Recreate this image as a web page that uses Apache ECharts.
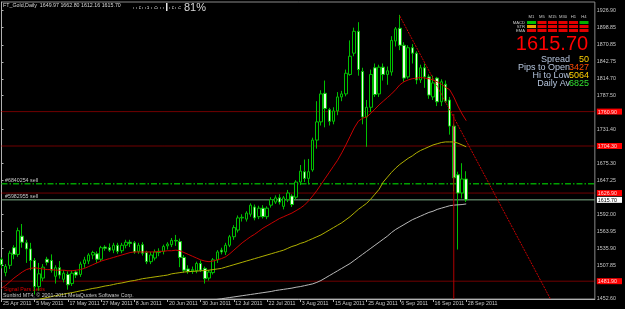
<!DOCTYPE html>
<html><head><meta charset="utf-8">
<script src="https://cdn.jsdelivr.net/npm/echarts@6/dist/echarts.min.js"></script>
<style>html,body{margin:0;padding:0;background:#000;}#c{width:625px;height:309px;}</style>
</head><body><div id="c"></div>
<script>
const FONT = '"Liberation Sans", Arial, sans-serif';
const dates = [
'25 Apr 2011','26 Apr 2011','27 Apr 2011','28 Apr 2011','29 Apr 2011',
'2 May 2011','3 May 2011','4 May 2011','5 May 2011','6 May 2011',
'9 May 2011','10 May 2011','11 May 2011','12 May 2011','13 May 2011',
'16 May 2011','17 May 2011','18 May 2011','19 May 2011','20 May 2011',
'23 May 2011','24 May 2011','25 May 2011','26 May 2011','27 May 2011',
'30 May 2011','31 May 2011',
'1 Jun 2011','2 Jun 2011','3 Jun 2011',
'6 Jun 2011','7 Jun 2011','8 Jun 2011','9 Jun 2011','10 Jun 2011',
'13 Jun 2011','14 Jun 2011','15 Jun 2011','16 Jun 2011','17 Jun 2011',
'20 Jun 2011','21 Jun 2011','22 Jun 2011','23 Jun 2011','24 Jun 2011',
'27 Jun 2011','28 Jun 2011','29 Jun 2011','30 Jun 2011',
'1 Jul 2011',
'4 Jul 2011','5 Jul 2011','6 Jul 2011','7 Jul 2011','8 Jul 2011',
'11 Jul 2011','12 Jul 2011','13 Jul 2011','14 Jul 2011','15 Jul 2011',
'18 Jul 2011','19 Jul 2011','20 Jul 2011','21 Jul 2011','22 Jul 2011',
'25 Jul 2011','26 Jul 2011','27 Jul 2011','28 Jul 2011','29 Jul 2011',
'1 Aug 2011','2 Aug 2011','3 Aug 2011','4 Aug 2011','5 Aug 2011',
'8 Aug 2011','9 Aug 2011','10 Aug 2011','11 Aug 2011','12 Aug 2011',
'15 Aug 2011','16 Aug 2011','17 Aug 2011','18 Aug 2011','19 Aug 2011',
'22 Aug 2011','23 Aug 2011','24 Aug 2011','25 Aug 2011','26 Aug 2011',
'29 Aug 2011','30 Aug 2011','31 Aug 2011',
'1 Sep 2011','2 Sep 2011',
'5 Sep 2011','6 Sep 2011','7 Sep 2011','8 Sep 2011','9 Sep 2011',
'12 Sep 2011','13 Sep 2011','14 Sep 2011','15 Sep 2011','16 Sep 2011',
'19 Sep 2011','20 Sep 2011','21 Sep 2011','22 Sep 2011','23 Sep 2011',
'26 Sep 2011','27 Sep 2011','28 Sep 2011'];
const futureSlots = 31;
const labelEvery = 8;

const open = [1518,1496,1508,1537,1526,1556,1545,1535,1516,1473,
1487,1518,1516,1490,1504,1485,1493,1478,1497,1493,
1511,1515,1525,1527,1518,1538,1537,1533,1541,1532,
1541,1546,1545,1531,1542,1529,1514,1520,1529,1531,
1540,1542,1549,1547,1521,1502,1499,1499,1511,1503,
1487,1496,1517,1533,1530,1541,1555,1566,1586,1584,
1592,1604,1588,1602,1588,1607,1612,1619,1605,1616,
1622,1620,1645,1662,1651,1665,1714,1744,1791,1764,
1745,1762,1785,1790,1822,1857,1893,1827,1752,1768,
1833,1790,1834,1822,1826,1877,1898,1870,1818,1866,
1857,1813,1833,1818,1785,1816,1777,1806,1780,1737,
1657,1627,1649.97];
const high = [1521,1510,1532,1541,1570,1576,1550,1545,1520,1512,
1510,1522,1526,1508,1515,1500,1498,1499,1500,1514,
1522,1528,1532,1531,1540,1541,1544,1545,1545,1545,
1550,1550,1548,1545,1546,1532,1530,1534,1536,1542,
1546,1553,1558,1552,1525,1508,1506,1514,1516,1506,
1500,1520,1533,1537,1545,1558,1574,1590,1592,1597,
1610,1608,1606,1607,1605,1620,1623,1625,1622,1632,
1625,1648,1673,1682,1683,1718,1778,1796,1812,1767,
1768,1793,1795,1830,1878,1899,1908,1833,1780,1830,
1840,1838,1840,1835,1885,1900,1920,1875,1870,1872,
1860,1838,1840,1822,1820,1818,1814,1812,1785,1741,
1662,1676,1662.80];
const low = [1503,1490,1502,1518,1522,1537,1512,1500,1460,1466,
1482,1508,1496,1478,1486,1480,1468,1474,1487,1489,
1504,1510,1518,1512,1515,1532,1530,1528,1527,1528,
1536,1538,1527,1527,1524,1510,1510,1516,1523,1526,
1534,1538,1540,1505,1496,1494,1494,1495,1497,1478,
1483,1493,1512,1526,1525,1538,1550,1562,1580,1580,
1588,1582,1584,1585,1584,1603,1609,1608,1600,1612,
1604,1616,1640,1645,1641,1662,1700,1738,1735,1738,
1740,1755,1778,1786,1820,1852,1820,1740,1703,1760,
1785,1785,1812,1805,1820,1868,1862,1810,1815,1840,
1806,1808,1800,1782,1780,1770,1770,1775,1723,1630,
1534,1618,1612.16];
const close = [1509,1506,1528,1526,1565,1546,1535,1516,1473,1494,
1505,1513,1500,1504,1492,1495,1476,1495,1492,1510,
1517,1525,1529,1518,1537,1536,1533,1541,1531,1541,
1546,1544,1530,1541,1528,1514,1525,1530,1531,1539,
1543,1549,1548,1521,1500,1498,1501,1511,1500,1486,
1497,1517,1530,1530,1541,1555,1570,1586,1587,1594,
1607,1586,1602,1588,1602,1616,1619,1612,1619,1627,
1608,1645,1663,1651,1662,1714,1744,1790,1766,1745,
1762,1785,1790,1824,1852,1893,1830,1752,1768,1822,
1789,1834,1822,1828,1878,1897,1870,1816,1866,1857,
1813,1833,1818,1788,1808,1777,1810,1778,1737,1652,
1627,1650,1615.70];

const maRed = [1470,1475,1481,1487,1492,1497,1501,1503,1504,1503,
1502,1501,1501,1500,1500,1500,1499,1499,1500,1501,
1503,1506,1509,1512,1515,1517,1519,1521,1523,1525,
1527,1529,1530,1530,1530,1530,1530,1530,1531,1531,
1532,1532,1533,1532,1529,1526,1523,1520,1517,1515,
1514,1515,1517,1519,1522,1527,1533,1539,1545,1550,
1555,1559,1564,1569,1573,1577,1581,1585,1588,1591,
1594,1598,1602,1607,1614,1622,1631,1641,1651,1661,
1671,1681,1693,1706,1720,1734,1745,1750,1752,1758,
1765,1772,1778,1784,1790,1797,1805,1810,1813,1815,
1816,1817,1816,1815,1813,1810,1806,1801,1797,1785,
1770,1757,1746];
const maYellow = [null,null,null,null,null,null,null,null,1450,1452,
1453.5,1455,1456.5,1458,1459,1460.5,1462,1463,1464.5,1466,
1467,1468.5,1470,1471,1472.5,1474,1475,1476.5,1478,1479,
1480.5,1482,1483,1484.5,1486,1487,1488,1489,1490,1491,
1492,1494,1495,1496,1497,1497.5,1498,1498.5,1499,1499.5,
1500,1501,1502,1503,1505,1507,1509,1511,1513,1515,
1517,1519,1521,1523,1525,1527,1529,1531,1533,1536,
1539,1541,1544,1546,1549,1552,1555,1558,1562,1566,
1570,1574,1578,1583,1588,1594,1600,1605,1610,1617,
1625,1633,1645,1653,1661,1668,1674,1679,1684,1688,
1693,1697,1700,1703,1706,1708,1710,1711,1711,1711,
1709,1706,1703];
const maWhite = [null,null,null,null,null,null,null,null,null,null,
null,null,null,null,null,null,null,null,null,null,
null,null,null,null,null,null,null,null,null,null,
null,null,null,null,null,null,null,null,null,null,
null,null,null,null,null,null,null,null,1447,1448,
1449.5,1451,1452,1453,1454,1455,1456,1457,1458,1459,
1460,1461,1462,1463,1464,1465,1466.5,1467.5,1468.5,1469.5,
1470.5,1472,1473,1474.5,1476,1477.5,1480,1483,1487,1491,
1495,1499,1503,1507,1511,1516,1521,1526,1531,1536,
1541,1546,1551,1556,1562,1567,1571,1575,1579,1583,
1586,1589,1592,1595,1597,1600,1602,1604,1606,1607,
1607.5,1608,1609];

const priceTicks = [1926.90,1898.85,1870.85,1842.75,1814.70,1787.50,1731.40,1675.30,1647.25,1592.00,1563.95,1535.90,1507.85,1452.60];
const redLevels = [1760.90,1704.30,1626.90,1481.90];
const bidPrice = 1615.70;
const orderLevels = [1642.0,1615.7];
const orderNames = ['#6840254 sell','#5982955 sell'];
const trendPoints = [[96,1918],[132.3,1452.6]];
const vLinePoints = [[109,1757],[109,1452.6]];
const yMin = 1452.6, yMax = 1941.2;

const categories = dates.concat(new Array(futureSlots).fill(''));
const nCat = categories.length;
const candleData = open.map((o,i)=>[o, close[i], low[i], high[i]]);
const showIdx = (i)=> i % labelEvery === 0 && i < dates.length;
const isIn = (arr,v)=> arr.some(a=>Math.abs(a-v)<1e-6);
const AX = 5.3;

const chart = echarts.init(document.getElementById('c'), null, {renderer:'canvas'});
const seriesList = [];
seriesList.push({type:'candlestick', data:candleData, barWidth:3, z:3,
  itemStyle:{color:'#000000', color0:'#e6ffe0', borderColor:'#00c000', borderColor0:'#00c000', borderWidth:1}});
seriesList.push({type:'line', data:maYellow, showSymbol:false, z:4, lineStyle:{color:'#b0b000', width:1}});
seriesList.push({type:'line', data:maWhite, showSymbol:false, z:4, lineStyle:{color:'#b8b8b8', width:1}});
seriesList.push({type:'line', data:maRed, showSymbol:false, z:4, lineStyle:{color:'#c80000', width:1}});
redLevels.forEach(p=>seriesList.push({type:'line', xAxisIndex:1, data:[[0,p],[nCat-1,p]], showSymbol:false, z:2,
  lineStyle:{color:'#e00000', width:1, type:[1,1]}}));
seriesList.push({type:'line', xAxisIndex:1, data:[[0,orderLevels[0]],[nCat-1,orderLevels[0]]], showSymbol:false, z:2,
  lineStyle:{color:'#00a000', width:1.5, type:[6,2,1.5,2]}});
seriesList.push({type:'line', xAxisIndex:1, data:[[0,orderLevels[1]],[nCat-1,orderLevels[1]]], showSymbol:false, z:2,
  lineStyle:{color:'#7fb08a', width:1}});
seriesList.push({type:'line', xAxisIndex:1, data:trendPoints, showSymbol:false, z:5,
  lineStyle:{color:'#c80000', width:1, type:[2,1]}});
seriesList.push({type:'line', xAxisIndex:1, data:vLinePoints, showSymbol:false, z:5,
  lineStyle:{color:'#b00000', width:1}});

const option = {
  backgroundColor:'#000000',
  animation:false,
  grid:{left:1, right:20, top:2, bottom:10, show:true, borderColor:'#8a8a8a', borderWidth:1},
  xAxis:[
    {type:'category', data:categories, boundaryGap:false,
     axisLine:{lineStyle:{color:'#b0b0b0'}},
     axisTick:{show:true, interval:(i)=>showIdx(i), length:3, lineStyle:{color:'#b0b0b0'}},
     axisLabel:{interval:(i)=>showIdx(i), color:'#c8c8c8', fontSize:AX, fontFamily:FONT, align:'left', margin:2, padding:[0,0,0,1.5]},
     splitLine:{show:false}},
    {type:'value', min:0, max:nCat-1, show:false}
  ],
  yAxis:[{type:'value', position:'right', min:yMin, max:yMax, scale:true,
    axisLine:{show:true, lineStyle:{color:'#b0b0b0'}},
    axisTick:{show:true, length:2, customValues:priceTicks, lineStyle:{color:'#b0b0b0'}},
    splitLine:{show:false},
    axisLabel:{customValues:priceTicks.concat(redLevels,[bidPrice]), margin:2, color:'#c8c8c8', fontSize:AX, fontFamily:FONT,
      formatter:(v)=>{ const s=v.toFixed(2); if(isIn(redLevels,v)) return '{r|'+s+'}'; if(Math.abs(v-bidPrice)<1e-6) return '{w|'+s+'}'; return s; },
      rich:{r:{backgroundColor:'#ff0000', color:'#ffd8d8', fontSize:AX, fontFamily:FONT, padding:[1,5,0,1]},
            w:{backgroundColor:'#ffffff', color:'#000000', fontSize:AX, fontFamily:FONT, padding:[1,5,0,1]}}}
  }],
  series:seriesList
};
chart.setOption(option);

const yPx = (p)=> chart.convertToPixel({yAxisIndex:0}, p);
const last = dates.length-1;
const title = 'FT_Gold,Daily  ' + [open[last],high[last],low[last],close[last]].map(v=>v.toFixed(2)).join(' ');
const g = [];
const txt = (t,x,y,fill,size,align)=>({type:'text', silent:true, z:100, style:{text:t, x:x, y:y, fill:fill, font:size+'px '+FONT, textAlign:align||'left', textVerticalAlign:'middle'}});
g.push(txt(title,3,5.5,'#d8d8d8',AX));
// gauge
g.push({type:'line', silent:true, z:100, shape:{x1:133,y1:8,x2:181,y2:8}, style:{stroke:'#c0c0c0', lineWidth:1, lineDash:[1,2]}});
[140,148,156,173,180].forEach(x=>g.push({type:'line', silent:true, z:100, shape:{x1:x,y1:6,x2:x,y2:9}, style:{stroke:'#c0c0c0', lineWidth:1, lineDash:[1,1]}}));
g.push({type:'rect', silent:true, z:100, shape:{x:166,y:3,width:1.5,height:8}, style:{fill:'#e8e8e8'}});
g.push(txt('81%',184,7.5,'#d8d8d8',11));
// signal panel
const cols = ['M1','M5','M15','M30','H1','H4'];
const colX = [527,537.5,548,558.5,569,579.5];
const rows = ['MACD','STR','EMA'];
const rowY = [21,25,29];
const cellColor = [['#00c000','#e8a000','#e00000'],['#e00000','#e00000','#e00000'],['#e00000','#e00000','#e00000'],['#e00000','#e00000','#e00000'],['#e00000','#e00000','#e00000'],['#00b000','#e00000','#e00000']];
cols.forEach((c,ci)=>{
  g.push(txt(c,colX[ci]+4.5,17,'#c8c8c8',4.2,'center'));
  rows.forEach((r,ri)=>g.push({type:'rect', silent:true, z:100, shape:{x:colX[ci],y:rowY[ri],width:9,height:3}, style:{fill:cellColor[ci][ri]}}));
});
rows.forEach((r,ri)=>g.push(txt(r,525,rowY[ri]+1.5,'#c8c8c8',4.2,'right')));
g.push(txt(bidPrice.toFixed(2),552,44.5,'#ff0000',20,'center'));
const statNames = ['Spread','Pips to Open','Hi to Low','Daily Av'];
const statVals = ['50','3427','5064','6825'];
const statCols = ['#ffd000','#ff4a00','#ffd000','#30e030'];
const statY = [59.5,67.5,75.5,83.5];
statNames.forEach((s,i)=>{ g.push(txt(s,570,statY[i],'#b4c4dc',9,'right')); g.push(txt(statVals[i],589,statY[i],statCols[i],9,'right')); });
orderNames.forEach((n,i)=>g.push(txt(n,5,yPx(orderLevels[i])-3,'#c8c8c8',AX)));
g.push(txt('Signal Pars Lexis',4,289.5,'#e00000',AX));
g.push(txt('Sunbird MT4, \u00a9 2001-2011 MetaQuotes Software Corp.',3,295.5,'#c8c8c8',AX));
chart.setOption({graphic:g});
</script></body></html>
